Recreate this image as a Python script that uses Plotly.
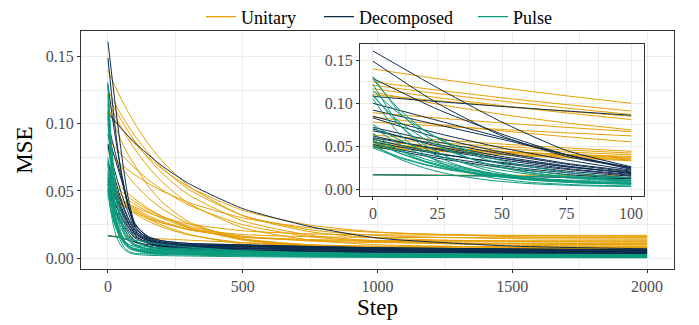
import plotly.graph_objects as go

# ---------------- data ----------------
steps_unitary = [0, 25, 50, 75, 100, 150, 200, 300, 500, 750, 1000, 1500, 2000]
steps_decomposed = [0, 25, 50, 75, 100, 150, 200, 300, 500, 750, 1000, 1500, 2000]
steps_pulse = [0, 10, 20, 30, 45, 60, 80, 100, 150, 200, 300, 500, 750, 1000, 1500, 2000]

unitary_runs = [
    [0.140, 0.1286, 0.1181, 0.1087, 0.100, 0.0850, 0.0725, 0.0536, 0.0317, 0.0197, 0.0150, 0.0125, 0.0121],
    [0.125, 0.1153, 0.1064, 0.0984, 0.091, 0.0781, 0.0674, 0.0511, 0.0318, 0.0211, 0.0169, 0.0145, 0.0141],
    [0.121, 0.1113, 0.1025, 0.0944, 0.087, 0.0741, 0.0634, 0.0471, 0.0278, 0.0171, 0.0129, 0.0105, 0.0101],
    [0.117, 0.1066, 0.0972, 0.0887, 0.081, 0.0678, 0.0569, 0.0407, 0.0227, 0.0134, 0.0100, 0.0083, 0.0080],
    [0.113, 0.0990, 0.0870, 0.0770, 0.0690, 0.0535, 0.0420, 0.0270, 0.0140, 0.0100, 0.0090, 0.0085, 0.0085],
    [0.110, 0.1030, 0.0965, 0.0906, 0.085, 0.0751, 0.0666, 0.0530, 0.0356, 0.0246, 0.0195, 0.0160, 0.0152],
    [0.089, 0.0828, 0.0771, 0.0719, 0.067, 0.0584, 0.0510, 0.0395, 0.0250, 0.0160, 0.0122, 0.0096, 0.0091],
    [0.084, 0.0754, 0.0678, 0.0610, 0.055, 0.0449, 0.0369, 0.0257, 0.0143, 0.0092, 0.0077, 0.0070, 0.0070],
    [0.078, 0.0735, 0.0694, 0.0656, 0.062, 0.0556, 0.0501, 0.0413, 0.0300, 0.0226, 0.0191, 0.0167, 0.0162],
    [0.063, 0.0575, 0.0525, 0.0481, 0.044, 0.0370, 0.0313, 0.0229, 0.0135, 0.0087, 0.0070, 0.0062, 0.0060],
    [0.059, 0.0540, 0.0496, 0.0456, 0.042, 0.0359, 0.0310, 0.0239, 0.0164, 0.0128, 0.0116, 0.0110, 0.0110],
    [0.055, 0.0507, 0.0468, 0.0432, 0.040, 0.0344, 0.0297, 0.0226, 0.0144, 0.0099, 0.0081, 0.0072, 0.0070],
    [0.053, 0.0482, 0.0440, 0.0403, 0.037, 0.0316, 0.0274, 0.0216, 0.0161, 0.0139, 0.0132, 0.0130, 0.0130],
    [0.052, 0.0475, 0.0435, 0.0395, 0.036, 0.0305, 0.0265, 0.0210, 0.0155, 0.0133, 0.0125, 0.0121, 0.0120],
    [0.051, 0.0463, 0.0421, 0.0384, 0.035, 0.0292, 0.0246, 0.0178, 0.0104, 0.0075, 0.0068, 0.0066, 0.0065],
    [0.050, 0.0465, 0.0433, 0.0405, 0.038, 0.0338, 0.0304, 0.0255, 0.0204, 0.0181, 0.0174, 0.0170, 0.0170],
    [0.049, 0.0442, 0.0400, 0.0363, 0.033, 0.0275, 0.0232, 0.0173, 0.0115, 0.0090, 0.0083, 0.0080, 0.0080],
    [0.048, 0.0440, 0.0405, 0.0372, 0.034, 0.0295, 0.0262, 0.0218, 0.0176, 0.0160, 0.0155, 0.0152, 0.0151],
    [0.0167, 0.0164, 0.0161, 0.0158, 0.0155, 0.0149, 0.0144, 0.0134, 0.0116, 0.0099, 0.0084, 0.0064, 0.0052],
]

decomposed_runs = [
    [0.161, 0.118, 0.078, 0.045, 0.026, 0.015, 0.012, 0.010, 0.0088, 0.0075, 0.0065, 0.0055, 0.0050],
    [0.149, 0.100, 0.062, 0.038, 0.025, 0.016, 0.013, 0.011, 0.0098, 0.0085, 0.0075, 0.0065, 0.0060],
    [0.129, 0.093, 0.064, 0.040, 0.024, 0.014, 0.011, 0.0085, 0.0072, 0.0062, 0.0055, 0.0047, 0.0042],
    [0.108, 0.1020, 0.0963, 0.0910, 0.086, 0.0769, 0.0688, 0.0555, 0.0369, 0.0235, 0.0150, 0.0090, 0.0070],
    [0.100, 0.080, 0.060, 0.040, 0.025, 0.016, 0.013, 0.011, 0.0100, 0.0088, 0.0078, 0.0068, 0.0062],
    [0.092, 0.075, 0.058, 0.040, 0.023, 0.014, 0.011, 0.009, 0.0080, 0.0070, 0.0062, 0.0053, 0.0049],
    [0.085, 0.065, 0.048, 0.034, 0.022, 0.015, 0.012, 0.010, 0.0092, 0.0082, 0.0074, 0.0066, 0.0062],
    [0.083, 0.060, 0.043, 0.030, 0.021, 0.013, 0.010, 0.008, 0.0072, 0.0062, 0.0055, 0.0047, 0.0043],
    [0.072, 0.055, 0.041, 0.029, 0.020, 0.014, 0.011, 0.0095, 0.0088, 0.0080, 0.0072, 0.0064, 0.0060],
    [0.070, 0.050, 0.036, 0.026, 0.019, 0.012, 0.009, 0.007, 0.0062, 0.0055, 0.0049, 0.0043, 0.0039],
    [0.068, 0.052, 0.038, 0.027, 0.018, 0.013, 0.011, 0.010, 0.0095, 0.0086, 0.0078, 0.0069, 0.0064],
    [0.062, 0.046, 0.034, 0.024, 0.017, 0.011, 0.008, 0.0065, 0.0058, 0.0051, 0.0045, 0.0040, 0.0037],
    [0.060, 0.047, 0.036, 0.026, 0.019, 0.013, 0.010, 0.008, 0.0072, 0.0064, 0.0058, 0.0052, 0.0049],
    [0.058, 0.042, 0.030, 0.021, 0.015, 0.011, 0.009, 0.008, 0.0075, 0.0069, 0.0063, 0.0058, 0.0054],
    [0.055, 0.041, 0.031, 0.023, 0.016, 0.012, 0.010, 0.009, 0.0085, 0.0078, 0.0071, 0.0065, 0.0061],
    [0.052, 0.038, 0.027, 0.019, 0.013, 0.009, 0.007, 0.006, 0.0055, 0.0050, 0.0045, 0.0040, 0.0038],
    [0.050, 0.036, 0.025, 0.017, 0.012, 0.009, 0.007, 0.0058, 0.0052, 0.0046, 0.0040, 0.0035, 0.0033],
    [0.0167, 0.0160, 0.0150, 0.0135, 0.012, 0.010, 0.0085, 0.0072, 0.0062, 0.0054, 0.0047, 0.0040, 0.0036],
]

pulse_runs = [
    [0.131, 0.0904, 0.0633, 0.0450, 0.0283, 0.0192, 0.0130, 0.0103, 0.0083, 0.0078, 0.0070, 0.0055, 0.0042, 0.0034, 0.0026, 0.0022],
    [0.128, 0.0934, 0.0686, 0.0509, 0.0332, 0.0225, 0.0145, 0.0104, 0.0068, 0.0062, 0.0055, 0.0044, 0.0035, 0.0029, 0.0023, 0.0019],
    [0.122, 0.0760, 0.0480, 0.0311, 0.0173, 0.0108, 0.0071, 0.0058, 0.0051, 0.0047, 0.0040, 0.0030, 0.0022, 0.0017, 0.0012, 0.0009],
    [0.115, 0.0882, 0.0680, 0.0528, 0.0369, 0.0265, 0.0176, 0.0132, 0.0085, 0.0073, 0.0062, 0.0050, 0.0041, 0.0035, 0.0030, 0.0027],
    [0.110, 0.0751, 0.0516, 0.0359, 0.0215, 0.0136, 0.0083, 0.0059, 0.0043, 0.0039, 0.0033, 0.0025, 0.0018, 0.0014, 0.0010, 0.0008],
    [0.108, 0.0791, 0.0584, 0.0435, 0.0288, 0.0198, 0.0131, 0.0096, 0.0067, 0.0061, 0.0053, 0.0042, 0.0034, 0.0029, 0.0024, 0.0021],
    [0.105, 0.0649, 0.0405, 0.0258, 0.0138, 0.0081, 0.0049, 0.0037, 0.0031, 0.0028, 0.0023, 0.0016, 0.0011, 0.0008, 0.0006, 0.0005],
    [0.075, 0.0576, 0.0445, 0.0347, 0.0244, 0.0176, 0.0119, 0.0090, 0.0060, 0.0054, 0.0047, 0.0038, 0.0031, 0.0027, 0.0023, 0.0020],
    [0.072, 0.0527, 0.0389, 0.0290, 0.0192, 0.0132, 0.0087, 0.0064, 0.0045, 0.0041, 0.0035, 0.0027, 0.0021, 0.0017, 0.0013, 0.0011],
    [0.065, 0.0455, 0.0325, 0.0238, 0.0158, 0.0114, 0.0084, 0.0071, 0.0061, 0.0057, 0.0050, 0.0040, 0.0032, 0.0027, 0.0022, 0.0019],
    [0.060, 0.0458, 0.0352, 0.0272, 0.0188, 0.0133, 0.0086, 0.0063, 0.0038, 0.0034, 0.0029, 0.0022, 0.0016, 0.0012, 0.0009, 0.0007],
    [0.057, 0.0423, 0.0317, 0.0241, 0.0166, 0.0120, 0.0086, 0.0069, 0.0053, 0.0049, 0.0043, 0.0034, 0.0027, 0.0022, 0.0018, 0.0015],
    [0.055, 0.0423, 0.0328, 0.0256, 0.0181, 0.0132, 0.0090, 0.0069, 0.0047, 0.0043, 0.0037, 0.0029, 0.0023, 0.0019, 0.0015, 0.0013],
    [0.052, 0.0355, 0.0245, 0.0171, 0.0103, 0.0065, 0.0040, 0.0029, 0.0021, 0.0019, 0.0016, 0.0011, 0.0008, 0.0006, 0.0004, 0.0003],
    [0.050, 0.0378, 0.0291, 0.0228, 0.0166, 0.0128, 0.0100, 0.0085, 0.0073, 0.0068, 0.0060, 0.0048, 0.0039, 0.0033, 0.0028, 0.0025],
    [0.048, 0.0368, 0.0284, 0.0221, 0.0154, 0.0111, 0.0074, 0.0056, 0.0036, 0.0033, 0.0028, 0.0021, 0.0016, 0.0013, 0.0010, 0.0008],
    [0.0167, 0.0164, 0.0161, 0.0158, 0.0153, 0.0148, 0.0141, 0.0134, 0.0118, 0.0104, 0.0082, 0.0055, 0.0038, 0.0030, 0.0022, 0.0018],
]

series_names = ["Unitary", "Decomposed", "Pulse"]
series_colors = ["#E69F00", "#0C2C4E", "#0A9B7D"]

main_xticks = [0, 500, 1000, 1500, 2000]
main_xminor = [250, 750, 1250, 1750]
inset_xticks = [0, 25, 50, 75, 100]
inset_xminor = [12.5, 37.5, 62.5, 87.5]
yticks = [0.0, 0.05, 0.10, 0.15]
yminor = [0.025, 0.075, 0.125]
inset_max_step = 100

# ---------------- geometry ----------------
ymax = 0.161
pad = ymax * 0.05
yrange = [-pad, ymax + pad]

# the page adds an 8px body margin, so the figure is drawn 8px smaller
OFF = 8
W, H = 699 - OFF, 325 - OFF
P_L, P_R, P_T, P_B = 81 - OFF, 674 - OFF, 31 - OFF, 269 - OFF
ml, mr, mt, mb = P_L, W - P_R, 2, H - P_B
pw, ph = W - ml - mr, H - mt - mb
main_ytop = (H - mb - P_T) / ph

inset_px = (360 - OFF, 644 - OFF, 44 - OFF, 196 - OFF)
ix0 = (inset_px[0] - ml) / pw
ix1 = (inset_px[1] - ml) / pw
iy1 = (H - mb - inset_px[2]) / ph
iy0 = (H - mb - inset_px[3]) / ph

legend_line_starts = [206, 324, 478]   # window px where each key line begins
legend_ids = ["legend", "legend2", "legend3"]
legend_cy = (H - mb - (17 - OFF)) / ph

# ---------------- figure ----------------
fig = go.Figure()
series = [
    (series_names[0], steps_unitary, unitary_runs, series_colors[0], legend_ids[0]),
    (series_names[1], steps_decomposed, decomposed_runs, series_colors[1], legend_ids[1]),
    (series_names[2], steps_pulse, pulse_runs, series_colors[2], legend_ids[2]),
]

for name, steps, runs, color, lg in series:
    for run in runs:
        fig.add_trace(go.Scatter(
            x=steps, y=run, mode="lines", name=name, legendgroup=name, legend=lg,
            showlegend=False, hoverinfo="skip",
            line=dict(color=color, width=1, shape="spline", smoothing=0.6),
            xaxis="x", yaxis="y"))
for name, steps, runs, color, lg in series:
    for run in runs:
        xs = [s for s in steps if s <= inset_max_step]
        ys = run[:len(xs)]
        fig.add_trace(go.Scatter(
            x=xs, y=ys, mode="lines", name=name, legendgroup=name, legend=lg,
            showlegend=False, hoverinfo="skip",
            line=dict(color=color, width=1, shape="spline", smoothing=0.6),
            xaxis="x2", yaxis="y2"))
# legend keys
for name, steps, runs, color, lg in series:
    fig.add_trace(go.Scatter(
        x=[None], y=[None], mode="lines", name=name, legendgroup=name, legend=lg,
        showlegend=True, hoverinfo="skip",
        line=dict(color=color, width=1.3), xaxis="x", yaxis="y"))

grid = "#EBEBEB"
border = "#333333"
tickc = "#4D4D4D"
FONT = "Liberation Serif"

common_axis = dict(
    showgrid=True, gridcolor=grid, gridwidth=1, zeroline=False,
    ticks="outside", ticklen=3, tickcolor=border, tickwidth=1,
    showline=True, mirror=True, linecolor=border, linewidth=1,
    automargin=False,
    tickfont=dict(family=FONT, size=16, color=tickc),
)

legend_layout = {}
for lg, start in zip(legend_ids, legend_line_starts):
    legend_layout[lg] = dict(
        orientation="h", x=(start - 5 - OFF - ml) / pw, xanchor="left",
        y=legend_cy, yanchor="middle",
        font=dict(family=FONT, size=18, color="black"),
        bgcolor="rgba(0,0,0,0)", itemwidth=30, borderwidth=0)

fig.update_layout(
    width=W, height=H,
    margin=dict(l=ml, r=mr, t=mt, b=mb, pad=0, autoexpand=False),
    paper_bgcolor="white", plot_bgcolor="white",
    font=dict(family=FONT, color="black"),
    showlegend=True,
    **legend_layout,
    xaxis=dict(domain=[0, 1], anchor="y", range=[-100, 2100], tickmode="array",
               tickvals=main_xticks,
               minor=dict(tickmode="array", tickvals=main_xminor, showgrid=True,
                          gridcolor=grid, gridwidth=0.6, ticks=""),
               title=dict(text="Step", font=dict(family=FONT, size=23, color="black"), standoff=4),
               **common_axis),
    yaxis=dict(domain=[0, main_ytop], anchor="x", range=yrange, tickmode="array",
               tickvals=yticks, tickformat=".2f",
               minor=dict(tickmode="array", tickvals=yminor, showgrid=True,
                          gridcolor=grid, gridwidth=0.6, ticks=""),
               title=dict(text="MSE", font=dict(family=FONT, size=23, color="black"), standoff=6),
               **common_axis),
    xaxis2=dict(domain=[ix0, ix1], anchor="y2", range=[-5, 105], tickmode="array",
                tickvals=inset_xticks,
                minor=dict(tickmode="array", tickvals=inset_xminor, showgrid=True,
                           gridcolor=grid, gridwidth=0.6, ticks=""),
                **common_axis),
    yaxis2=dict(domain=[iy0, iy1], anchor="x2", range=yrange, tickmode="array",
                tickvals=yticks, tickformat=".2f",
                minor=dict(tickmode="array", tickvals=yminor, showgrid=True,
                           gridcolor=grid, gridwidth=0.6, ticks=""),
                **common_axis),
)

fig.add_shape(type="rect", xref="x2", yref="y2", x0=-5, x1=105, y0=yrange[0], y1=yrange[1],
              fillcolor="white", line=dict(width=0), layer="below")

fig.write_html("out.html")
